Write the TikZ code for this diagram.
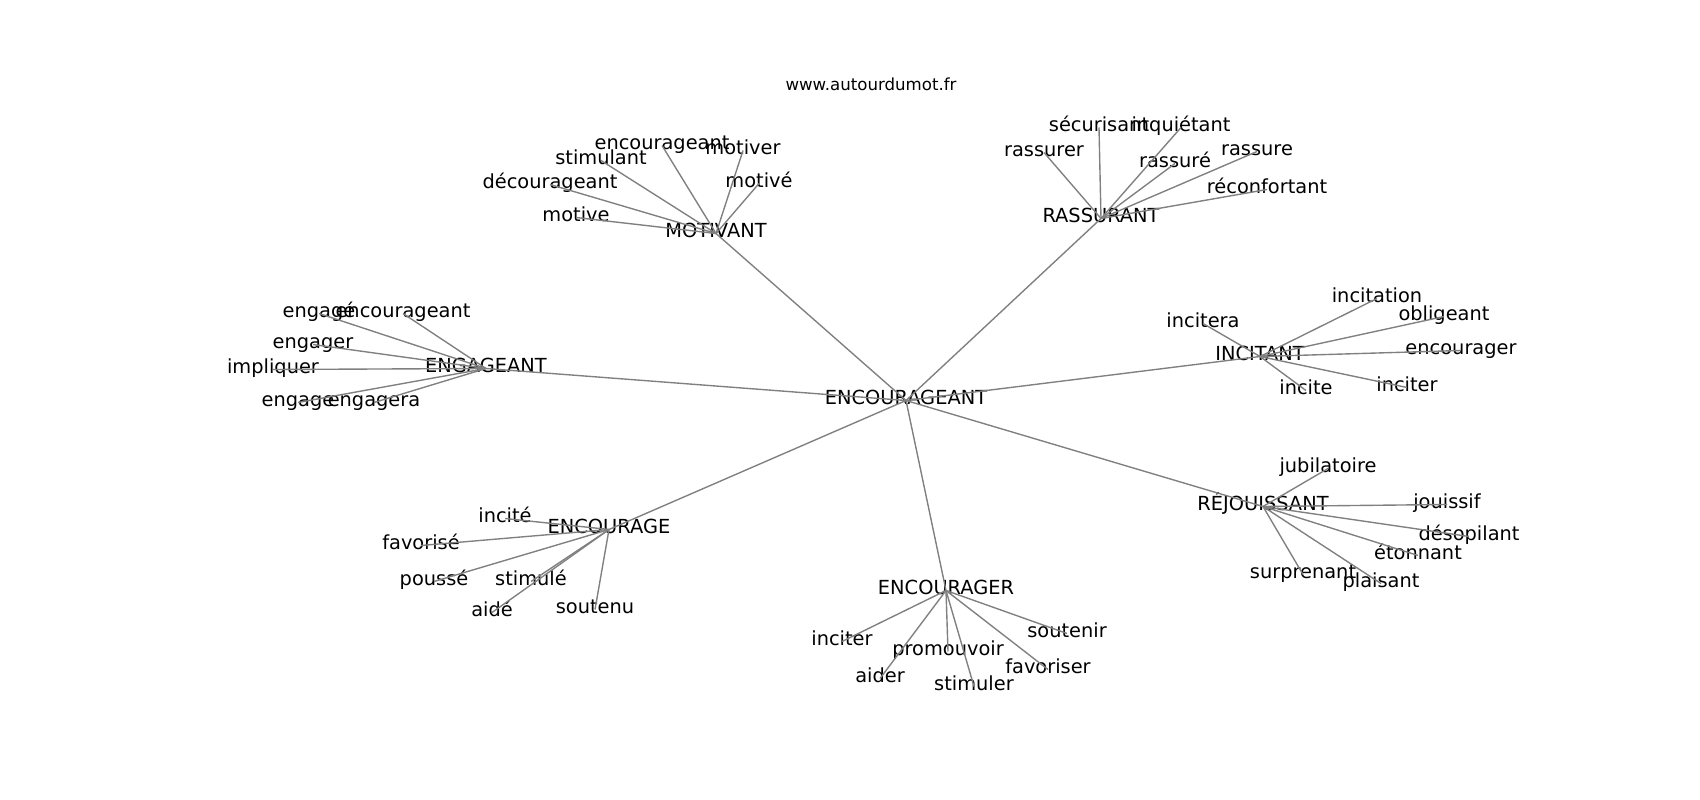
\documentclass[tikz,border=0pt]{standalone}
\usepackage{fontspec}
\setmainfont{DejaVu Sans}
\usetikzlibrary{positioning}

\begin{document}
\begin{tikzpicture}[
    x=0.01in, y=-0.01in,
    word/.style={inner sep=0pt, text height=.76em, text depth=.24em, font=\fontsize{14}{16}\selectfont},
    link/.style={draw=gray, line width=1pt}
]
    \useasboundingbox (0,-3.5) rectangle (1700,796.5);

    % Title
    \node[word, font=\fontsize{12}{14}\selectfont] (site) at (871,83) {www.autourdumot.fr};

    % Hub
    \node[word] (encourageant) at (906,397) {ENCOURAGEANT};

    % Motivant
    \node[word] (motivant) at (716,230) {MOTIVANT};
    \node[word] (mot_encourageant) at (662,142) {encourageant};
    \node[word] (mot_motiver) at (743,147) {motiver};
    \node[word] (mot_stimulant) at (601,157) {stimulant};
    \node[word] (mot_decourageant) at (550,181) {décourageant};
    \node[word] (mot_motive) at (759,180) {motivé};
    \node[word] (mot_motive_b) at (576,214) {motive};

    % Rassurant
    \node[word] (rassurant) at (1101,215) {RASSURANT};
    \node[word] (ras_securisant) at (1099,124) {sécurisant};
    \node[word] (ras_inquietant) at (1181,124) {inquiétant};
    \node[word] (ras_rassurer) at (1044,149) {rassurer};
    \node[word] (ras_rassure) at (1175,160) {rassuré};
    \node[word] (ras_rassure_b) at (1257,148) {rassure};
    \node[word] (ras_reconfortant) at (1267,186) {réconfortant};

    % Engageant
    \node[word] (engageant) at (486,365) {ENGAGEANT};
    \node[word] (eng_engage) at (319,310) {engagé};
    \node[word] (eng_encourageant) at (403,310) {encourageant};
    \node[word] (eng_engager) at (313,341) {engager};
    \node[word] (eng_impliquer) at (273,366) {impliquer};
    \node[word] (eng_engage_b) at (298,399) {engage};
    \node[word] (eng_engagera) at (374,399) {engagera};

    % Incitant
    \node[word] (incitant) at (1260,353) {INCITANT};
    \node[word] (inc_incitation) at (1377,295) {incitation};
    \node[word] (inc_incitera) at (1203,320) {incitera};
    \node[word] (inc_obligeant) at (1444,313) {obligeant};
    \node[word] (inc_encourager) at (1461,347) {encourager};
    \node[word] (inc_incite) at (1306,387) {incite};
    \node[word] (inc_inciter) at (1407,384) {inciter};

    % Rejouissant
    \node[word] (rejouissant) at (1263,503) {RÉJOUISSANT};
    \node[word] (rej_jubilatoire) at (1328,465) {jubilatoire};
    \node[word] (rej_jouissif) at (1447,501) {jouissif};
    \node[word] (rej_desopilant) at (1469,533) {désopilant};
    \node[word] (rej_etonnant) at (1418,552) {étonnant};
    \node[word] (rej_surprenant) at (1303,571) {surprenant};
    \node[word] (rej_plaisant) at (1381,580) {plaisant};

    % Encourage
    \node[word] (encourage) at (609,526) {ENCOURAGE};
    \node[word] (ece_incite) at (505,515) {incité};
    \node[word] (ece_favorise) at (421,542) {favorisé};
    \node[word] (ece_pousse) at (434,578) {poussé};
    \node[word] (ece_stimule) at (531,578) {stimulé};
    \node[word] (ece_aide) at (492,609) {aidé};
    \node[word] (ece_soutenu) at (595,606) {soutenu};

    % Encourager
    \node[word] (encourager) at (946,587) {ENCOURAGER};
    \node[word] (ecr_inciter) at (842,638) {inciter};
    \node[word] (ecr_promouvoir) at (948,648) {promouvoir};
    \node[word] (ecr_aider) at (880,675) {aider};
    \node[word] (ecr_stimuler) at (974,683) {stimuler};
    \node[word] (ecr_soutenir) at (1067,630) {soutenir};
    \node[word] (ecr_favoriser) at (1048,666) {favoriser};

    % Hub links
    \draw[link] (encourageant.center) -- (motivant.center);
    \draw[link] (encourageant.center) -- (rassurant.center);
    \draw[link] (encourageant.center) -- (engageant.center);
    \draw[link] (encourageant.center) -- (incitant.center);
    \draw[link] (encourageant.center) -- (rejouissant.center);
    \draw[link] (encourageant.center) -- (encourage.center);
    \draw[link] (encourageant.center) -- (encourager.center);

    % Motivant links
    \draw[link] (motivant.center) -- (mot_encourageant.center);
    \draw[link] (motivant.center) -- (mot_motiver.center);
    \draw[link] (motivant.center) -- (mot_stimulant.center);
    \draw[link] (motivant.center) -- (mot_decourageant.center);
    \draw[link] (motivant.center) -- (mot_motive.center);
    \draw[link] (motivant.center) -- (mot_motive_b.center);

    % Rassurant links
    \draw[link] (rassurant.center) -- (ras_securisant.center);
    \draw[link] (rassurant.center) -- (ras_inquietant.center);
    \draw[link] (rassurant.center) -- (ras_rassurer.center);
    \draw[link] (rassurant.center) -- (ras_rassure.center);
    \draw[link] (rassurant.center) -- (ras_rassure_b.center);
    \draw[link] (rassurant.center) -- (ras_reconfortant.center);

    % Engageant links
    \draw[link] (engageant.center) -- (eng_engage.center);
    \draw[link] (engageant.center) -- (eng_encourageant.center);
    \draw[link] (engageant.center) -- (eng_engager.center);
    \draw[link] (engageant.center) -- (eng_impliquer.center);
    \draw[link] (engageant.center) -- (eng_engage_b.center);
    \draw[link] (engageant.center) -- (eng_engagera.center);

    % Incitant links
    \draw[link] (incitant.center) -- (inc_incitation.center);
    \draw[link] (incitant.center) -- (inc_incitera.center);
    \draw[link] (incitant.center) -- (inc_obligeant.center);
    \draw[link] (incitant.center) -- (inc_encourager.center);
    \draw[link] (incitant.center) -- (inc_incite.center);
    \draw[link] (incitant.center) -- (inc_inciter.center);

    % Rejouissant links
    \draw[link] (rejouissant.center) -- (rej_jubilatoire.center);
    \draw[link] (rejouissant.center) -- (rej_jouissif.center);
    \draw[link] (rejouissant.center) -- (rej_desopilant.center);
    \draw[link] (rejouissant.center) -- (rej_etonnant.center);
    \draw[link] (rejouissant.center) -- (rej_surprenant.center);
    \draw[link] (rejouissant.center) -- (rej_plaisant.center);

    % Encourage links
    \draw[link] (encourage.center) -- (ece_incite.center);
    \draw[link] (encourage.center) -- (ece_favorise.center);
    \draw[link] (encourage.center) -- (ece_pousse.center);
    \draw[link] (encourage.center) -- (ece_stimule.center);
    \draw[link] (encourage.center) -- (ece_aide.center);
    \draw[link] (encourage.center) -- (ece_soutenu.center);

    % Encourager links
    \draw[link] (encourager.center) -- (ecr_inciter.center);
    \draw[link] (encourager.center) -- (ecr_promouvoir.center);
    \draw[link] (encourager.center) -- (ecr_aider.center);
    \draw[link] (encourager.center) -- (ecr_stimuler.center);
    \draw[link] (encourager.center) -- (ecr_soutenir.center);
    \draw[link] (encourager.center) -- (ecr_favoriser.center);
\end{tikzpicture}
\end{document}
